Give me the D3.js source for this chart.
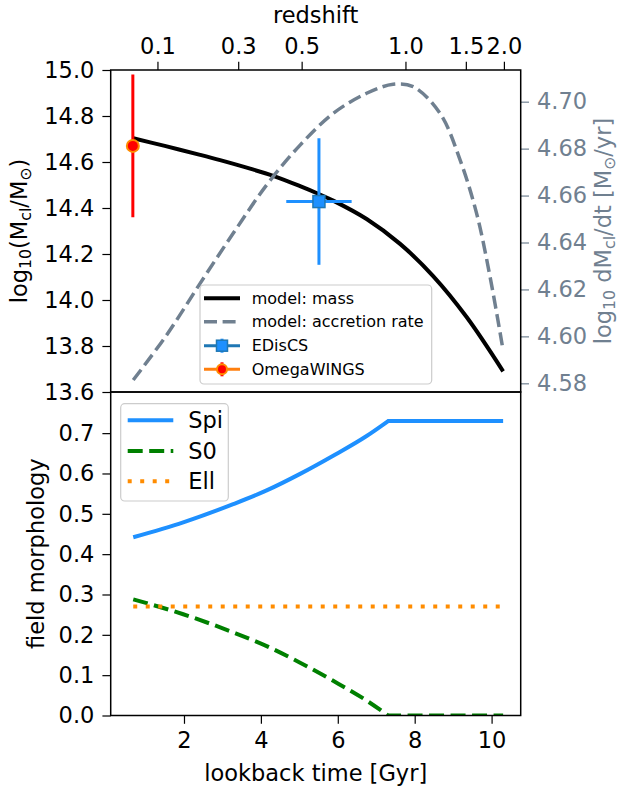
<!DOCTYPE html>
<html>
<head>
<meta charset="utf-8">
<script src="https://cdn.jsdelivr.net/npm/d3@7"></script>
<style>
  html, body { margin: 0; padding: 0; background: #fff; }
  svg { display: block; font-family: "DejaVu Sans", sans-serif; }
</style>
</head>
<body>
<svg id="chart" width="620" height="790"></svg>
<script>
// ---- data ----
// cluster mass model (lookback time in Gyr, log10 M)
const massTime  = [0.68, 1.50, 2.42, 2.94, 3.72, 4.32, 5.02, 5.49, 5.88, 6.75, 7.62, 8.48, 9.35, 10.30];
const massValue = [14.703, 14.670, 14.631, 14.608, 14.571, 14.540, 14.495, 14.462, 14.432, 14.352, 14.244, 14.104, 13.926, 13.690];

// accretion rate model (log10 dM/dt)
const accTime  = [0.68, 1.55, 2.42, 3.28, 4.15, 5.02, 5.88, 6.75, 7.44, 7.96, 8.66, 9.18, 9.61, 9.96, 10.30];
const accValue = [4.5814, 4.6006, 4.6226, 4.6439, 4.6645, 4.6815, 4.6950, 4.7036, 4.7074, 4.7064, 4.6950, 4.6752, 4.6524, 4.6254, 4.5940];

// observed clusters
const obsNames = ["EDisCS", "OmegaWINGS"];
const obsTime  = [5.51, 0.67];
const obsTimeErr = [0.85, 0];
const obsMass  = [14.428, 14.670];
const obsMassErr = [0.275, 0.31];

// field morphology fractions
const morphTime = [0.68, 1.98, 3.28, 4.15, 5.02, 5.88, 6.75, 7.31, 10.30];
const spiValue  = [0.442, 0.479, 0.524, 0.558, 0.599, 0.644, 0.693, 0.730, 0.730];
const s0Value   = [0.288, 0.251, 0.206, 0.172, 0.131, 0.086, 0.037, 0.000, 0.000];
const ellTime   = [0.68, 10.30];
const ellValue  = [0.270, 0.270];

// axis ticks
const massTicks = [13.6, 13.8, 14.0, 14.2, 14.4, 14.6, 14.8, 15.0];
const accTicks  = [4.58, 4.60, 4.62, 4.64, 4.66, 4.68, 4.70];
const morphTicks = [0.0, 0.1, 0.2, 0.3, 0.4, 0.5, 0.6, 0.7];
const timeTicks = [2, 4, 6, 8, 10];
const redshiftLabels   = ["0.1", "0.3", "0.5", "1.0", "1.5", "2.0"];
const redshiftLookback = [1.31, 3.41, 5.06, 7.76, 9.33, 10.32];

// ---- layout ----
const svg = d3.select("#chart");
const L = 110.7, R = 520.7, T = 70, M = 392, B = 715.5;
const FS = 22.5, LFS = 16;
const TICK = 8.3, PAD = 8;
const grey = "#708090";

const x = d3.scaleLinear().domain([0.094, 10.757]).range([L, R]);
const yMass = d3.scaleLinear().domain([13.6, 15.0]).range([M, T]);
const yAcc  = d3.scaleLinear().domain([4.5763, 4.7135]).range([M, T]);
const yMorph = d3.scaleLinear().domain([0, 0.802]).range([B, M]);

const defs = svg.append("defs");
defs.append("clipPath").attr("id", "clipTop")
  .append("rect").attr("x", L).attr("y", T).attr("width", R - L).attr("height", M - T);
defs.append("clipPath").attr("id", "clipBot")
  .append("rect").attr("x", L).attr("y", M).attr("width", R - L).attr("height", B - M);

// smooth line through points, with a sharp corner where a plateau starts
function plateauPath(xs, ys, xsc, ysc) {
  let k = xs.length - 1;
  while (k > 0 && ys[k - 1] === ys[xs.length - 1]) k--;
  const pts = xs.map((t, i) => [xsc(t), ysc(ys[i])]);
  const curved = d3.line().curve(d3.curveMonotoneX)(pts.slice(0, k + 1));
  const rest = pts.slice(k + 1).map(p => "L" + p[0] + "," + p[1]).join("");
  return curved + rest;
}

// ---- top panel ----
const topPanel = svg.append("g");
const topPlot = topPanel.append("g").attr("clip-path", "url(#clipTop)");

const massLine = d3.line().curve(d3.curveCatmullRom.alpha(0.5))
  .x((d, i) => x(massTime[i])).y(d => yMass(d));
topPlot.append("path").attr("d", massLine(massValue))
  .attr("fill", "none").attr("stroke", "#000").attr("stroke-width", 4);

// error bars
const errColor = ["#1e90ff", "#ff0000"];
obsNames.forEach((name, i) => {
  const g = topPlot.append("g");
  if (obsTimeErr[i] > 0) {
    g.append("line")
      .attr("x1", x(obsTime[i] - obsTimeErr[i])).attr("x2", x(obsTime[i] + obsTimeErr[i]))
      .attr("y1", yMass(obsMass[i])).attr("y2", yMass(obsMass[i]))
      .attr("stroke", errColor[i]).attr("stroke-width", 3);
  }
  g.append("line")
    .attr("x1", x(obsTime[i])).attr("x2", x(obsTime[i]))
    .attr("y1", yMass(obsMass[i] - obsMassErr[i])).attr("y2", yMass(obsMass[i] + obsMassErr[i]))
    .attr("stroke", errColor[i]).attr("stroke-width", 3);
});
// markers
topPlot.append("rect")
  .attr("x", x(obsTime[0]) - 6).attr("y", yMass(obsMass[0]) - 6)
  .attr("width", 12).attr("height", 12)
  .attr("fill", "#1e90ff").attr("stroke", "#1f77b4").attr("stroke-width", 1.5);
topPlot.append("circle")
  .attr("cx", x(obsTime[1])).attr("cy", yMass(obsMass[1])).attr("r", 6)
  .attr("fill", "#ff0000").attr("stroke", "#ff8c00").attr("stroke-width", 2);

// accretion rate on the twin axis
const accLine = d3.line().curve(d3.curveCatmullRom.alpha(0.5))
  .x((d, i) => x(accTime[i])).y(d => yAcc(d));
topPlot.append("path").attr("d", accLine(accValue))
  .attr("fill", "none").attr("stroke", grey).attr("stroke-width", 3.5)
  .attr("stroke-dasharray", "13,5.6");

// top panel axes
const axMassL = d3.axisLeft(yMass).tickValues(massTicks).tickFormat(d3.format(".1f"))
  .tickSize(TICK).tickPadding(PAD);
topPanel.append("g").attr("transform", `translate(${L},0)`).call(axMassL);
const axAccR = d3.axisRight(yAcc).tickValues(accTicks).tickFormat(d3.format(".2f"))
  .tickSize(TICK).tickPadding(PAD);
const gAR = topPanel.append("g").attr("transform", `translate(${R},0)`).call(axAccR);

const axZ = d3.axisTop(x).tickValues(redshiftLookback)
  .tickFormat((d, i) => redshiftLabels[i]).tickSize(TICK).tickPadding(PAD);
topPanel.append("g").attr("transform", `translate(0,${T})`).call(axZ);

// ---- bottom panel ----
const botPanel = svg.append("g");
const botPlot = botPanel.append("g").attr("clip-path", "url(#clipBot)");
botPlot.append("path").attr("d", plateauPath(morphTime, spiValue, x, yMorph))
  .attr("fill", "none").attr("stroke", "#1e90ff").attr("stroke-width", 4);
botPlot.append("path").attr("d", plateauPath(morphTime, s0Value, x, yMorph))
  .attr("fill", "none").attr("stroke", "#008000").attr("stroke-width", 4)
  .attr("stroke-dasharray", "15,6.5");
botPlot.append("path")
  .attr("d", d3.line().x((d, i) => x(ellTime[i])).y(d => yMorph(d))(ellValue))
  .attr("fill", "none").attr("stroke", "#ff8c00").attr("stroke-width", 4)
  .attr("stroke-dasharray", "4,8.5");

const axMorph = d3.axisLeft(yMorph).tickValues(morphTicks).tickFormat(d3.format(".1f"))
  .tickSize(TICK).tickPadding(PAD);
botPanel.append("g").attr("transform", `translate(${L},0)`).call(axMorph);
const axT = d3.axisBottom(x).tickValues(timeTicks).tickFormat(d3.format("d"))
  .tickSize(TICK).tickPadding(PAD);
botPanel.append("g").attr("transform", `translate(0,${B})`).call(axT);

// common axis styling
svg.selectAll(".domain").remove();
svg.selectAll(".tick text").attr("font-size", FS).attr("font-family", "DejaVu Sans");
svg.selectAll(".tick line").attr("stroke-width", 1.2);
gAR.selectAll(".tick line").attr("stroke", grey);
gAR.selectAll(".tick text").attr("fill", grey);

// spines
[[T, M], [M, B]].forEach(([y0, y1]) => {
  svg.append("rect").attr("x", L).attr("y", y0).attr("width", R - L).attr("height", y1 - y0)
    .attr("fill", "none").attr("stroke", "#000").attr("stroke-width", 1.5);
});

// ---- legends ----
function legendBox(x0, y0, w, h) {
  svg.append("rect").attr("x", x0).attr("y", y0).attr("width", w).attr("height", h)
    .attr("rx", 4).attr("fill", "#fff").attr("fill-opacity", 0.8)
    .attr("stroke", "#cccccc").attr("stroke-width", 1.2);
}

// top legend
const tlx = 200, tly = 285;
legendBox(tlx, tly, 231.7, 99);
const tRows = [298.3, 321.7, 345.7, 369.3];
const tLabels = ["model: mass", "model: accretion rate", obsNames[0], obsNames[1]];
const hx0 = tlx + 4, hx1 = tlx + 40, hxm = (hx0 + hx1) / 2;
svg.append("line").attr("x1", hx0).attr("x2", hx1).attr("y1", tRows[0]).attr("y2", tRows[0])
  .attr("stroke", "#000").attr("stroke-width", 4);
svg.append("line").attr("x1", hx0).attr("x2", hx1).attr("y1", tRows[1]).attr("y2", tRows[1])
  .attr("stroke", grey).attr("stroke-width", 3.5).attr("stroke-dasharray", "13,5.6");
svg.append("line").attr("x1", hx0).attr("x2", hx1).attr("y1", tRows[2]).attr("y2", tRows[2])
  .attr("stroke", "#1f77b4").attr("stroke-width", 3);
svg.append("line").attr("x1", hxm).attr("x2", hxm).attr("y1", tRows[2] - 7).attr("y2", tRows[2] + 7)
  .attr("stroke", "#1e90ff").attr("stroke-width", 3);
svg.append("rect").attr("x", hxm - 5.5).attr("y", tRows[2] - 5.5).attr("width", 11).attr("height", 11)
  .attr("fill", "#1e90ff").attr("stroke", "#1f77b4").attr("stroke-width", 1.5);
svg.append("line").attr("x1", hx0).attr("x2", hx1).attr("y1", tRows[3]).attr("y2", tRows[3])
  .attr("stroke", "#ff7f0e").attr("stroke-width", 3);
svg.append("line").attr("x1", hxm).attr("x2", hxm).attr("y1", tRows[3] - 7).attr("y2", tRows[3] + 7)
  .attr("stroke", "#ff0000").attr("stroke-width", 3);
svg.append("circle").attr("cx", hxm).attr("cy", tRows[3]).attr("r", 5)
  .attr("fill", "#ff0000").attr("stroke", "#ff8c00").attr("stroke-width", 2);
tLabels.forEach((t, i) => {
  svg.append("text").attr("x", tlx + 51.7).attr("y", tRows[i]).attr("dy", "0.35em")
    .attr("font-size", LFS).attr("fill", "#000").text(t);
});

// bottom legend
const blx = 120.7, bly = 403.7;
legendBox(blx, bly, 107.6, 97.3);
const bRows = [420.3, 451, 481.3];
const bLabels = ["Spi", "S0", "Ell"];
const bStyles = [
  { c: "#1e90ff", d: null },
  { c: "#008000", d: "15,6.5" },
  { c: "#ff8c00", d: "4,8.5" }
];
bLabels.forEach((t, i) => {
  const ln = svg.append("line").attr("x1", blx + 7).attr("x2", blx + 52.6)
    .attr("y1", bRows[i]).attr("y2", bRows[i])
    .attr("stroke", bStyles[i].c).attr("stroke-width", 4);
  if (bStyles[i].d) ln.attr("stroke-dasharray", bStyles[i].d);
  svg.append("text").attr("x", blx + 67.6).attr("y", bRows[i]).attr("dy", "0.35em")
    .attr("font-size", FS).attr("fill", "#000").text(t);
});

// ---- axis titles ----
function sub(sel, s) {
  sel.append("tspan").attr("baseline-shift", "-22%").attr("font-size", "70%").text(s);
}
// left top
const lt = svg.append("text").attr("transform", `translate(19,${(T + M) / 2}) rotate(-90)`)
  .attr("text-anchor", "middle").attr("dy", "0.35em").attr("font-size", FS);
lt.append("tspan").text("log");
sub(lt, "10");
lt.append("tspan").text("(M");
sub(lt, "cl");
lt.append("tspan").text("/M");
sub(lt, "\u2299");
lt.append("tspan").text(")");

// right top
const rt = svg.append("text").attr("transform", `translate(603,${(T + M) / 2}) rotate(-90)`)
  .attr("text-anchor", "middle").attr("dy", "0.35em").attr("font-size", FS).attr("fill", grey);
rt.append("tspan").text("log");
sub(rt, "10");
rt.append("tspan").text(" dM");
sub(rt, "cl");
rt.append("tspan").text("/dt [M");
sub(rt, "\u2299");
rt.append("tspan").text("/yr]");

// left bottom
svg.append("text").attr("transform", `translate(36,${(M + B) / 2}) rotate(-90)`)
  .attr("text-anchor", "middle").attr("dy", "0.35em").attr("font-size", FS)
  .text("field morphology");

// bottom
svg.append("text").attr("x", (L + R) / 2).attr("y", 773).attr("dy", "0.35em")
  .attr("text-anchor", "middle").attr("font-size", FS).text("lookback time [Gyr]");

// top
svg.append("text").attr("x", (L + R) / 2).attr("y", 15).attr("dy", "0.35em")
  .attr("text-anchor", "middle").attr("font-size", FS).text("redshift");
</script>
</body>
</html>
